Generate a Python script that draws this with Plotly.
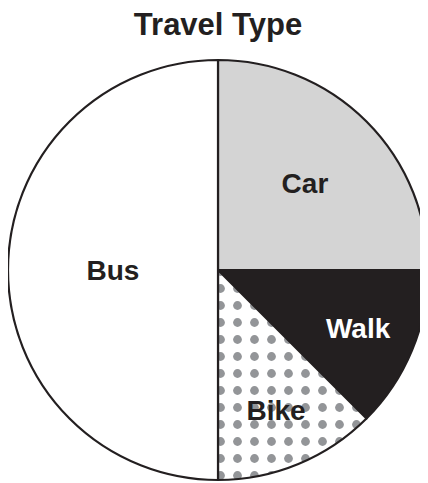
import plotly.graph_objects as go

labels = ["Car", "Walk", "Bike", "Bus"]
values = [25, 12.5, 12.5, 50]
fill_colors = ["#d4d4d4", "#231f20", "#ffffff", "#ffffff"]
text_colors = ["#231f20", "#ffffff", "#231f20", "#231f20"]
pattern_shapes = ["", "", ".", ""]

# page body has an 8px margin, so the figure is sized to the visible area
W, H = 420, 475
fig = go.Figure(go.Pie(
    labels=labels,
    values=values,
    sort=False,
    direction="clockwise",
    rotation=0,
    textinfo="label",
    textposition="inside",
    insidetextorientation="horizontal",
    textfont=dict(family="Liberation Sans, Arial, sans-serif", size=28, color=text_colors, weight="bold"),
    marker=dict(
        colors=fill_colors,
        line=dict(color="#231f20", width=2.2),
        pattern=dict(shape=pattern_shapes, fgcolor="#939598", bgcolor="#ffffff",
                     size=17, solidity=0.21, fillmode="replace"),
    ),
    hoverinfo="label+percent",
    showlegend=False,
    domain=dict(x=[0.0, 1.0], y=[2 / H, 1 - 51 / H]),
))

fig.update_layout(
    width=W, height=H,
    margin=dict(l=0, r=0, t=0, b=0),
    paper_bgcolor="#ffffff",
    title=dict(text="<b>Travel Type</b>", x=0.5, xanchor="center",
               y=1 - 16 / H, yanchor="middle", yref="container",
               font=dict(family="Liberation Sans, Arial, sans-serif", size=31, color="#231f20")),
)

fig.write_html("out.html")
